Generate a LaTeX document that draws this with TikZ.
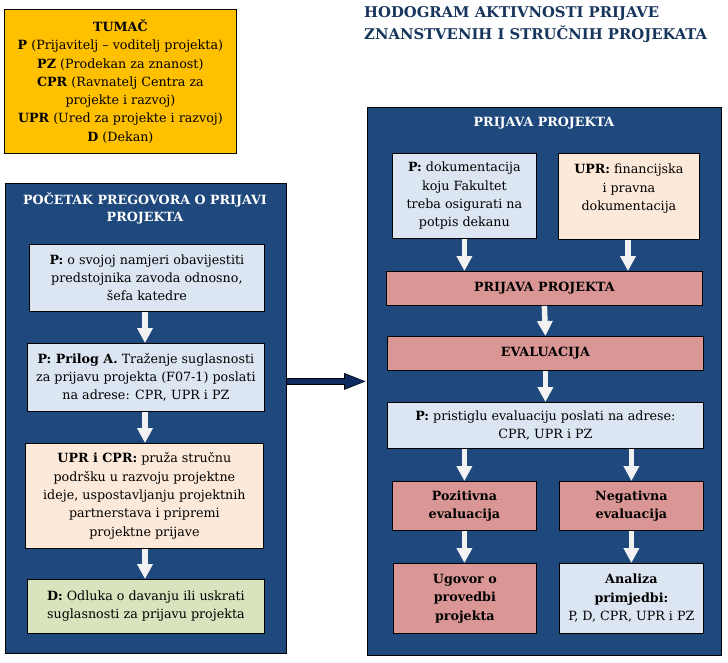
\documentclass[tikz,border=0pt]{standalone}
\usepackage{fontspec}
\setmainfont{DejaVu Serif}
\usetikzlibrary{arrows.meta,calc}
\definecolor{panel}{HTML}{1F497D}
\definecolor{titlec}{HTML}{17365D}
\definecolor{legendc}{HTML}{FFC000}
\definecolor{lblue}{HTML}{DCE6F2}
\definecolor{peach}{HTML}{FDE9D9}
\definecolor{lgreen}{HTML}{D7E4BD}
\definecolor{rose}{HTML}{D99694}
\definecolor{awhite}{HTML}{F2F2F2}
\definecolor{conn}{HTML}{0F2A5E}
\begin{document}
\begin{tikzpicture}[x=1pt,y=-1pt,
  box/.style={draw=black, line width=0.8pt, inner sep=0pt, align=center, anchor=north west, text=black,
    font=\fontsize{12.7}{18.3}\selectfont},
  bbox/.style={box, font=\fontsize{12.7}{18}\selectfont\bfseries},
  panelbox/.style={draw=black, line width=0.8pt, fill=panel, inner sep=0pt, anchor=north west},
  ptitle/.style={text=white, align=center, font=\fontsize{12.7}{17}\selectfont\bfseries},
  warrow/.style={draw=awhite, line width=5.5pt, -{Triangle[length=15pt,width=15pt]}}
]
\useasboundingbox (0,0) rectangle (728,662);
% legend
\node[box, fill=legendc, minimum width=232, minimum height=144] (leg) at (4,9)
 {\textbf{TUMAČ}\\\textbf{P} (Prijavitelj – voditelj projekta)\\\textbf{PZ} (Prodekan za znanost)\\
  \textbf{CPR} (Ravnatelj Centra za\\projekte i razvoj)\\\textbf{UPR} (Ured za projekte i razvoj)\\\textbf{D} (Dekan)};
% title
\node[anchor=north west, align=left, inner sep=0pt, text=titlec, font=\fontsize{14.8}{22}\selectfont\bfseries] (title) at (364,6)
 {HODOGRAM AKTIVNOSTI PRIJAVE\\ZNANSTVENIH I STRUČNIH PROJEKATA};
% left panel
\node[panelbox, minimum width=281, minimum height=470] (lp) at (5,183) {};
\node[ptitle] (lpt) at (145,208) {POČETAK PREGOVORA O PRIJAVI\\PROJEKTA};
\node[box, fill=lblue, minimum width=235, minimum height=67] (b1) at (29,244)
 {\textbf{P:} o svojoj namjeri obavijestiti\\predstojnika zavoda odnosno,\\šefa katedre};
\node[box, fill=lblue, minimum width=237, minimum height=68] (b2) at (27,343)
 {\textbf{P: Prilog A.} Traženje suglasnosti\\za prijavu projekta (F07-1) poslati\\na adrese: CPR, UPR i PZ};
\node[box, fill=peach, minimum width=238, minimum height=105] (b3) at (25,443)
 {\textbf{UPR i CPR:} pruža stručnu\\podršku u razvoju projektne\\ideje, uspostavljanju projektnih\\partnerstava i pripremi\\projektne prijave};
\node[box, fill=lgreen, minimum width=237, minimum height=54] (b4) at (27,579)
 {\textbf{D:} Odluka o davanju ili uskrati\\suglasnosti za prijavu projekta};
\draw[warrow] (b1.south -| 145,0) -- (b2.north -| 145,0);
\draw[warrow] (b2.south -| 145,0) -- (b3.north -| 145,0);
\draw[warrow] (b3.south -| 145,0) -- (b4.north -| 145,0);
% right panel
\node[panelbox, minimum width=354, minimum height=548] (rp) at (367,107) {};
\node[ptitle] (rpt) at (544,123) {PRIJAVA PROJEKTA};
\node[box, fill=lblue, minimum width=144, minimum height=85] (r1) at (392,153)
 {\textbf{P:} dokumentacija\\koju Fakultet\\treba osigurati na\\potpis dekanu};
\node[box, fill=peach, minimum width=141, minimum height=86] (r2) at (558,153)
 {\textbf{UPR:} financijska\\i pravna\\dokumentacija\\\mbox{}};
\node[bbox, fill=rose, minimum width=316, minimum height=34] (r3) at (386,271)
 {PRIJAVA PROJEKTA};
\node[bbox, fill=rose, minimum width=316, minimum height=34] (r4) at (387,336)
 {EVALUACIJA};
\node[box, fill=lblue, minimum width=316, minimum height=46] (r5) at (387,402)
 {\textbf{P:} pristiglu evaluaciju poslati na adrese:\\CPR, UPR i PZ};
\node[bbox, fill=rose, minimum width=144, minimum height=49] (r6) at (392,481)
 {Pozitivna\\evaluacija};
\node[bbox, fill=rose, minimum width=144, minimum height=49] (r7) at (559,481)
 {Negativna\\evaluacija};
\node[bbox, fill=rose, minimum width=143, minimum height=70, font=\fontsize{12.7}{18.5}\selectfont\bfseries] (r8) at (393,563)
 {Ugovor o\\provedbi\\projekta};
\node[box, fill=lblue, minimum width=144, minimum height=70, font=\fontsize{12.7}{18.5}\selectfont] (r9) at (559,563)
 {\textbf{Analiza}\\\textbf{primjedbi:}\\P, D, CPR, UPR i PZ};
\draw[warrow] (r1.south) -- (r1.south |- r3.north);
\draw[warrow] (r2.south -| 628,0) -- (r3.north -| 628,0);
\draw[warrow] (r3.south) -- (r4.north);
\draw[warrow] (r4.south) -- (r4.south |- r5.north);
\draw[warrow] (r5.south -| r6.north) -- (r6.north);
\draw[warrow] (r5.south -| r7.north) -- (r7.north);
\draw[warrow] (r6.south) -- (r8.north -| r6.south);
\draw[warrow] (r7.south) -- (r9.north -| r7.south);
% connector
\coordinate (ca) at ($(b2.east)+(0,4)$);
\draw[black, line width=7.5pt, -{Triangle[length=23pt,width=15pt]}] (ca -| lp.east) -- (ca -| rp.west);
\draw[conn, line width=5pt, -{Triangle[length=21pt,width=12.5pt]}] (ca -| lp.east) -- ($(ca -| rp.west)+(-1,0)$);
\end{tikzpicture}
\end{document}
